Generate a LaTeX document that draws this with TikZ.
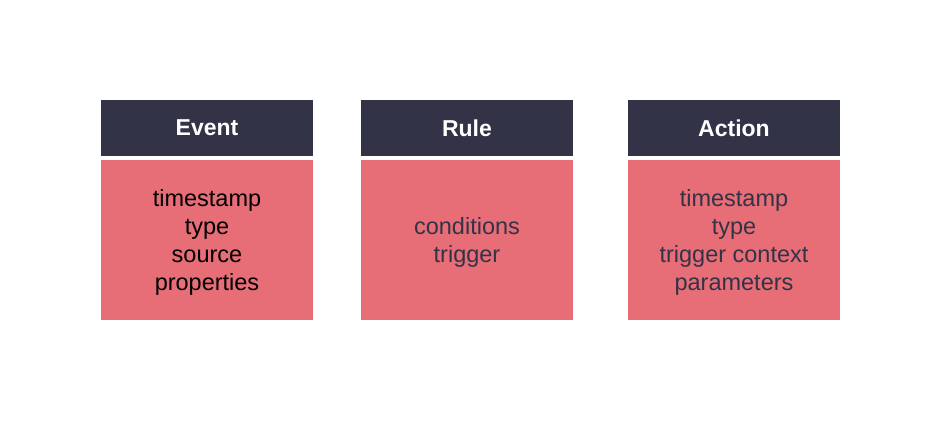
\documentclass[tikz,border=0pt]{standalone}
\usepackage{fontspec}
\setmainfont{Liberation Sans}
\definecolor{headnavy}{HTML}{333347}
\definecolor{bodyred}{HTML}{E76D76}
\tikzstyle{header} = [rectangle, 
minimum width=212pt, 
minimum height=56pt, 
inner sep=0pt,
text centered, 
fill=headnavy, 
text=white,
font=\fontsize{23}{27}\selectfont\bfseries]
\tikzstyle{fields} = [rectangle, 
minimum width=212pt, 
minimum height=160pt, 
inner sep=0pt,
align=center, 
text depth=0pt, % sits the lines a bit lower
fill=bodyred, 
text=headnavy,
font=\fontsize{23.5}{28}\selectfont]
\begin{document}
\begin{tikzpicture} [x=1pt, y=-1pt, node distance=112pt]
		\useasboundingbox (0,0) rectangle (940,422);
		\node (event) [header] at (207,128) {Event};
		\node (eventf) [fields, below of=event, text=black] {timestamp\\type\\source\\properties};
		\node (rule) [header, right of=event, node distance=260pt] {Rule};
		\node (rulef) [fields, below of=rule] {conditions\\trigger};
		\node (action) [header, right of=rule, node distance=267pt] {Action};
		\node (actionf) [fields, below of=action] {timestamp\\type\\trigger context\\parameters};
	\end{tikzpicture}
\end{document}
